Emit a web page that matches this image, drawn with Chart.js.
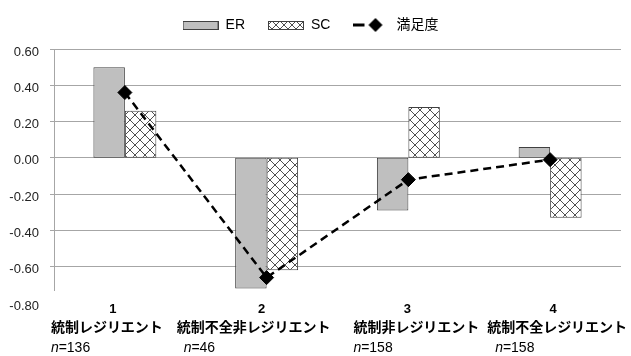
<!DOCTYPE html>
<html>
<head>
<meta charset="utf-8">
<script src="https://cdn.jsdelivr.net/npm/chart.js@4/dist/chart.umd.min.js"></script>
<style>
  body { margin: 0; background: #fff; }
  #wrap { width: 631px; height: 356px; }
</style>
</head>
<body>
<div id="wrap"><canvas id="chart" width="631" height="356"></canvas></div>
<script>
const categories = ['1', '2', '3', '4'];
const groupNames = ['統制レジリエント', '統制不全非レジリエント', '統制非レジリエント', '統制不全レジリエント'];
const sampleSizes = [136, 46, 158, 158];
const erValues = [0.50, -0.72, -0.29, 0.06];
const scValues = [0.26, -0.62, 0.28, -0.33];
const satisfaction = [0.36, -0.66, -0.12, -0.01];
const yMin = -0.8, yMax = 0.6, yStep = 0.2;

const JP = '"Noto Sans CJK JP", sans-serif';
const LAT = '"Liberation Sans", "Noto Sans CJK JP", sans-serif';

// crosshatch fill used for SC bars
function makeHatch(size) {
  const c = document.createElement('canvas');
  c.width = size; c.height = size;
  const g = c.getContext('2d');
  g.fillStyle = '#fff';
  g.fillRect(0, 0, size, size);
  g.strokeStyle = '#505050';
  g.lineWidth = 1;
  g.beginPath();
  g.moveTo(-1, -1); g.lineTo(size + 1, size + 1);
  g.moveTo(size + 1, -1); g.lineTo(-1, size + 1);
  g.stroke();
  return g.createPattern(c, 'repeat');
}
const hatch = makeHatch(10);

// legend symbols as small canvases
function legendIcon(kind) {
  const c = document.createElement('canvas');
  c.width = 36; c.height = 16;
  const g = c.getContext('2d');
  if (kind === 'line') {
    g.strokeStyle = '#000';
    g.lineWidth = 3;
    g.beginPath(); g.moveTo(0, 8); g.lineTo(11, 8); g.stroke();
    g.fillStyle = '#000';
    g.beginPath();
    g.moveTo(22, 1); g.lineTo(29, 8); g.lineTo(22, 15); g.lineTo(15, 8);
    g.closePath(); g.fill();
  } else {
    g.fillStyle = kind === 'er' ? '#bfbfbf' : makeHatch(8);
    g.fillRect(0.5, 4.5, 35, 8);
    g.strokeStyle = '#404040';
    g.lineWidth = 1;
    g.strokeRect(0.5, 4.5, 35, 8);
  }
  return c;
}
const icons = [legendIcon('er'), legendIcon('sc'), legendIcon('line')];

// group labels under the axis (number, name, n=)
const groupLabels = {
  id: 'groupLabels',
  afterDraw(chart) {
    const { ctx, chartArea, scales: { x } } = chart;
    const numDx = [-12, -5, -1, 3];
    const nameDx = [-18, -13, 8, 7];
    const nDx = [0, 7, 0, 8];
    const b = chartArea.bottom;
    ctx.save();
    ctx.fillStyle = '#fff';
    ctx.fillRect(45, b - 12, chart.width - 45, chart.height - b + 12);
    ctx.fillStyle = '#000';
    ctx.textBaseline = 'middle';
    categories.forEach((cat, i) => {
      const cx = x.getPixelForValue(i);
      ctx.textAlign = 'center';
      ctx.font = 'bold 13px ' + LAT;
      ctx.fillText(cat, cx + numDx[i], b + 6);
      ctx.font = 'bold 14px ' + JP;
      ctx.fillText(groupNames[i], cx + nameDx[i], b + 24);
      const left = cx + nameDx[i] - ctx.measureText(groupNames[i]).width / 2 + nDx[i];
      ctx.textAlign = 'left';
      ctx.font = 'italic 14px ' + LAT;
      ctx.fillText('n', left, b + 45);
      const w = ctx.measureText('n').width;
      ctx.font = '14px ' + LAT;
      ctx.fillText('=' + sampleSizes[i], left + w, b + 45);
    });
    ctx.restore();
  }
};

new Chart(document.getElementById('chart'), {
  type: 'bar',
  data: {
    labels: categories,
    datasets: [
      {
        label: 'ER',
        data: erValues,
        backgroundColor: '#bfbfbf',
        borderColor: '#404040',
        borderWidth: 1,
        borderSkipped: false,
        barPercentage: 1,
        categoryPercentage: 0.444,
        order: 1
      },
      {
        label: 'SC',
        data: scValues,
        backgroundColor: hatch,
        borderColor: '#404040',
        borderWidth: 1,
        borderSkipped: false,
        barPercentage: 1,
        categoryPercentage: 0.444,
        order: 1
      },
      {
        type: 'line',
        label: '満足度',
        data: satisfaction,
        borderColor: '#000',
        borderWidth: 2.5,
        borderDash: [8, 5],
        pointStyle: 'rectRot',
        pointRadius: 7,
        pointBackgroundColor: '#000',
        pointBorderColor: '#000',
        pointBorderWidth: 1,
        fill: false,
        order: 0
      }
    ]
  },
  options: {
    responsive: false,
    animation: false,
    layout: { padding: { top: -5, right: 10, bottom: 53, left: 0 } },
    plugins: {
      tooltip: { enabled: false },
      // empty spacer box between legend and plot
      title: { display: true, text: '', weight: 500, padding: 0, font: { size: 7, lineHeight: 1 } },
      legend: {
        position: 'top',
        labels: {
          usePointStyle: true,
          pointStyleWidth: 36,
          padding: 23,
          color: '#000',
          font: { family: LAT, size: 14 },
          generateLabels: chart => chart.data.datasets.map((ds, i) => ({
            text: ds.label,
            pointStyle: icons[i],
            fillStyle: 'transparent',
            strokeStyle: 'transparent',
            lineWidth: 0,
            fontColor: '#000',
            hidden: !chart.isDatasetVisible(i),
            datasetIndex: i
          }))
        }
      }
    },
    scales: {
      x: { display: false },
      y: {
        min: yMin,
        max: yMax,
        afterFit: scale => { scale.width = 54; },
        border: { color: '#a6a6a6', width: 1 },
        grid: {
          color: '#a6a6a6',
          tickColor: '#a6a6a6',
          tickLength: 4
        },
        ticks: {
          stepSize: yStep,
          padding: 11,
          labelOffset: 3,
          color: '#222',
          font: { family: LAT, size: 13 },
          callback: v => (Math.abs(v) < 1e-9 ? 0 : v).toFixed(2)
        }
      }
    }
  },
  plugins: [groupLabels]
});
</script>
</body>
</html>
